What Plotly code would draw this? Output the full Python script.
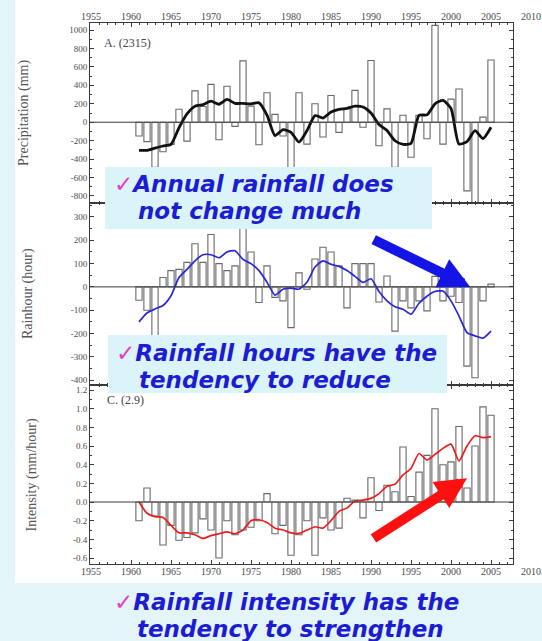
import plotly.graph_objects as go

# ---------------- data ----------------
years = list(range(1961, 2006))

# A: annual precipitation anomaly (mm) and its running mean
precip_anom = [-150, -210, -490, -320, -240, 140, -205, 340, 170, 410,
               -190, 390, -45, 665, 175, -245, 320, 85, -150, -495,
               320, -237, 200, -160, 290, -110, 150, 345, -55, 670,
               -255, 145, -490, 75, -380, 75, -180, 1050, -237, 250,
               360, -745, -880, 55, 675]
precip_smooth = [-305, -305, -280, -258, -240, -60, 90, 174, 190, 229,
                 195, 247, 205, 204, 200, 210, 77, -145, -80, -110,
                 -215, -90, 72, 45, 110, 140, 150, 174, 165, 100,
                 -25, -90, -201, -240, -230, 75, 80, 200, 236, 150,
                 -237, -210, -92, -178, -55]

# B: annual rain-hour anomaly (hour) and its running mean
rainhour_anom = [-57, -100, -210, 40, 70, 75, 105, 185, 105, 225,
                 100, 70, 90, 255, 150, -67, 90, -45, -60, -175,
                 60, -10, 120, 170, 150, 90, -90, 100, 100, 100,
                 -65, 47, -190, -60, -90, -60, -103, 45, -60, -40,
                 -67, -340, -390, -60, 12]
rainhour_smooth = [-150, -112, -95, -80, -38, 40, 75, 112, 138, 138,
                   125, 150, 155, 118, 100, 70, 20, -35, -10, -5,
                   -10, 20, 85, 112, 97, 88, 70, 45, 19, 35,
                   -20, -60, -85, -96, -117, -70, -40, -20, -18, -60,
                   -125, -196, -210, -220, -190]

# C: rainfall intensity anomaly (mm/hour) and its running mean
intensity_anom = [-0.20, 0.15, -0.15, -0.46, -0.25, -0.41, -0.38, -0.33, -0.18, -0.30,
                  -0.60, -0.20, -0.35, -0.30, -0.27, -0.20, 0.09, -0.34, -0.25, -0.57,
                  -0.35, -0.20, -0.57, -0.17, -0.30, -0.28, 0.04, 0.02, -0.17, 0.26,
                  -0.09, 0.18, 0.11, 0.59, 0.06, 0.32, 0.50, 1.00, 0.40, 0.43,
                  0.81, 0.15, 0.60, 1.02, 0.93]
intensity_smooth = [0.0, -0.12, -0.157, -0.165, -0.25, -0.33, -0.33, -0.35, -0.39, -0.36,
                    -0.34, -0.32, -0.34, -0.30, -0.20, -0.19, -0.22, -0.28, -0.30, -0.33,
                    -0.336, -0.30, -0.265, -0.28, -0.20, -0.10, -0.065, 0.01, 0.021, 0.039,
                    0.09, 0.17, 0.19, 0.29, 0.36, 0.52, 0.45, 0.51, 0.575, 0.62,
                    0.44, 0.60, 0.71, 0.69, 0.70]

tick_years = [1955, 1960, 1965, 1970, 1975, 1980, 1985, 1990, 1995, 2000, 2005, 2010]
precip_ticks = [-800, -600, -400, -200, 0, 200, 400, 600, 800, 1000]
precip_ticktext = ["-800", "-600", "-400", "-200", "0", "200", "400", "600", "800", "1000"]
rainhour_ticks = [-400, -300, -200, -100, 0, 100, 200, 300]
rainhour_ticktext = ["-400", "-300", "-200", "-100", "0", "100", "200", "300"]
intensity_ticks = [-0.6, -0.4, -0.2, 0.0, 0.2, 0.4, 0.6, 0.8, 1.0, 1.2]
intensity_ticktext = ["-0.6", "-0.4", "-0.2", "0.0", "0.2", "0.4", "0.6", "0.8", "1.0", "1.2"]

y_titles = ["Precipitation (mm)", "Rainhour (hour)", "Intensity (mm/hour)"]
panel_labels = ["A. (2315)", "C. (2.9)"]
notes = [
    ["Annual rainfall does", "not change much"],
    ["Rainfall hours have the", "tendency to reduce"],
    ["Rainfall intensity has the", "tendency to strengthen"],
]

# ---------------- geometry helpers ----------------
W, H = 542, 641
ML, MR, MT, MB = 90, 0, 23, 77
PW, PH = W - ML - MR, H - MT - MB
FRAME_R = 513
PX_PER_YEAR = 8.0
X0 = 1954.875
x_end = X0 + (FRAME_R - ML) / PX_PER_YEAR
x_label_end = X0 + PW / PX_PER_YEAR


def fx(px):
    return (px - ML) / PW


def fy(py):
    return (H - MB - py) / PH


frame_col = "#3a3a3a"
tick_font = dict(family="Liberation Serif", size=9, color="#4a4a4a")

fig = go.Figure()

panels = [
    ("x", "y", precip_anom, precip_smooth, "#111111", 2.8),
    ("x2", "y2", rainhour_anom, rainhour_smooth, "#2626d6", 1.7),
    ("x3", "y3", intensity_anom, intensity_smooth, "#ec1c1c", 1.7),
]
for xa, ya, bars, smooth, col, lw in panels:
    fig.add_trace(go.Bar(
        x=years, y=bars, xaxis=xa, yaxis=ya, width=0.78,
        marker=dict(color="rgba(255,255,255,0)", line=dict(color="#6a6a6a", width=1.1)),
        showlegend=False, hoverinfo="skip"))
    fig.add_trace(go.Scatter(
        x=years, y=smooth, xaxis=xa, yaxis=ya, mode="lines",
        line=dict(color=col, width=lw, shape="spline", smoothing=0.6),
        showlegend=False, hoverinfo="skip"))

# carriers for the year labels printed above and below the stack
for xa, ya in (("x4", "y"), ("x5", "y3")):
    fig.add_trace(go.Scatter(x=[tick_years[0], tick_years[-1]], y=[None, None],
                             xaxis=xa, yaxis=ya, mode="markers",
                             showlegend=False, hoverinfo="skip"))


def xaxis_cfg(anchor):
    return dict(domain=[0, fx(FRAME_R)], range=[X0, x_end], anchor=anchor,
                showline=True, linecolor=frame_col, linewidth=1, mirror="ticks",
                ticks="inside", ticklen=4, tickwidth=1, tickcolor=frame_col,
                tickmode="linear", tick0=1955, dtick=5, showticklabels=False,
                showgrid=False, zeroline=False,
                minor=dict(ticks="inside", ticklen=2, tickwidth=1, tickcolor=frame_col,
                           dtick=1, tick0=1955, showgrid=False))


def label_axis(anchor, side):
    return dict(domain=[0, 1], range=[X0, x_label_end], anchor=anchor, side=side,
                tickmode="array", tickvals=tick_years,
                ticktext=[str(v) for v in tick_years],
                showline=False, ticks="", showgrid=False, zeroline=False,
                tickfont=dict(family="Liberation Serif", size=10, color="#4a4a4a"))


def yaxis_cfg(dom, rng, vals, texts, minor_step, anchor):
    return dict(domain=dom, range=rng, anchor=anchor,
                showline=True, linecolor=frame_col, linewidth=1, mirror="ticks",
                ticks="inside", ticklen=4, tickwidth=1, tickcolor=frame_col,
                tickmode="array", tickvals=vals, ticktext=texts,
                minor=dict(ticks="inside", ticklen=2, tickwidth=1, tickcolor=frame_col,
                           dtick=minor_step, tick0=0, showgrid=False),
                showgrid=False, zeroline=False, tickfont=tick_font)


panel_px = [(23, 203), (203, 385), (385, 564)]
doms = [[fy(b), fy(t)] for t, b in panel_px]

layout = dict(
    width=W, height=H, autosize=False,
    margin=dict(l=ML, r=MR, t=MT, b=MB, pad=0),
    paper_bgcolor="#e4f5f9", plot_bgcolor="rgba(0,0,0,0)",
    barmode="overlay",
    xaxis=xaxis_cfg("y"), xaxis2=xaxis_cfg("y2"), xaxis3=xaxis_cfg("y3"),
    xaxis4=label_axis("y", "top"), xaxis5=label_axis("y3", "bottom"),
    yaxis=yaxis_cfg(doms[0], [-876, 1076], precip_ticks, precip_ticktext, 100, "x"),
    yaxis2=yaxis_cfg(doms[1], [-421, 360], rainhour_ticks, rainhour_ticktext, 50, "x2"),
    yaxis3=yaxis_cfg(doms[2], [-0.664, 1.254], intensity_ticks, intensity_ticktext, 0.1, "x3"),
)
fig.update_layout(**layout)

shapes = []
# white picture area behind the chart
shapes.append(dict(type="rect", xref="paper", yref="paper", layer="below",
                   x0=fx(15), x1=1.0, y0=fy(583), y1=fy(-2),
                   fillcolor="white", line=dict(width=0)))
# zero reference lines
for xa, ya in (("x", "y"), ("x2", "y2"), ("x3", "y3")):
    shapes.append(dict(type="line", xref=xa + " domain", yref=ya, x0=0, x1=1, y0=0, y1=0,
                       line=dict(color=frame_col, width=1)))
# highlighted note boxes
box_fill = "#dbf4f9"
for x0, x1, y0, y1 in ((105, 432, 167, 229), (108, 447, 335, 393)):
    shapes.append(dict(type="rect", xref="paper", yref="paper", layer="above",
                       x0=fx(x0), x1=fx(x1), y0=fy(y1), y1=fy(y0),
                       fillcolor=box_fill, line=dict(width=0)))
fig.update_layout(shapes=shapes)

ann = []
# axis titles
for title, (t, b), xpx in zip(y_titles, panel_px, (24, 28, 31)):
    ann.append(dict(text=title, xref="paper", yref="paper", x=fx(xpx), y=fy((t + b) / 2),
                    textangle=-90, showarrow=False, xanchor="center", yanchor="middle",
                    font=dict(family="Liberation Serif", size=14, color="#555555")))
# panel tags
ann.append(dict(text=panel_labels[0], xref="x domain", yref="y domain", x=0.028, y=0.889,
                xanchor="left", yanchor="middle", showarrow=False,
                font=dict(family="Liberation Serif", size=12, color="#444444")))
ann.append(dict(text=panel_labels[1], xref="x3 domain", yref="y3 domain", x=0.035, y=0.916,
                xanchor="left", yanchor="middle", showarrow=False,
                font=dict(family="Liberation Serif", size=12, color="#444444")))

note_font = dict(family="DejaVu Sans", size=23, color="#1c1cd4", weight="bold", style="italic")
check = "<span style='color:#e040c8'>\u2713</span>"
note_pos = [((112, 184), (136, 211)), ((114, 353), (137, 380)), ((112, 602), (135, 629))]
for lines, ((cx, cy), (lx, ly)) in zip(notes, note_pos):
    ann.append(dict(text=check + lines[0], xref="paper", yref="paper", x=fx(cx), y=fy(cy),
                    xanchor="left", yanchor="middle", showarrow=False, font=note_font))
    ann.append(dict(text=lines[1], xref="paper", yref="paper", x=fx(lx), y=fy(ly),
                    xanchor="left", yanchor="middle", showarrow=False, font=note_font))

# trend arrows
ann.append(dict(text="", x=2002.4, y=0, xref="x2", yref="y2", ax=-98, ay=-48,
                showarrow=True, arrowhead=2, arrowsize=0.62, arrowwidth=10,
                arrowcolor="#1414e6", standoff=0))
ann.append(dict(text="", x=2002.0, y=0.254, xref="x3", yref="y3", ax=-95, ay=61,
                showarrow=True, arrowhead=2, arrowsize=0.62, arrowwidth=10,
                arrowcolor="#ff1010", standoff=0))
fig.update_layout(annotations=ann)

fig.write_html("out.html")
